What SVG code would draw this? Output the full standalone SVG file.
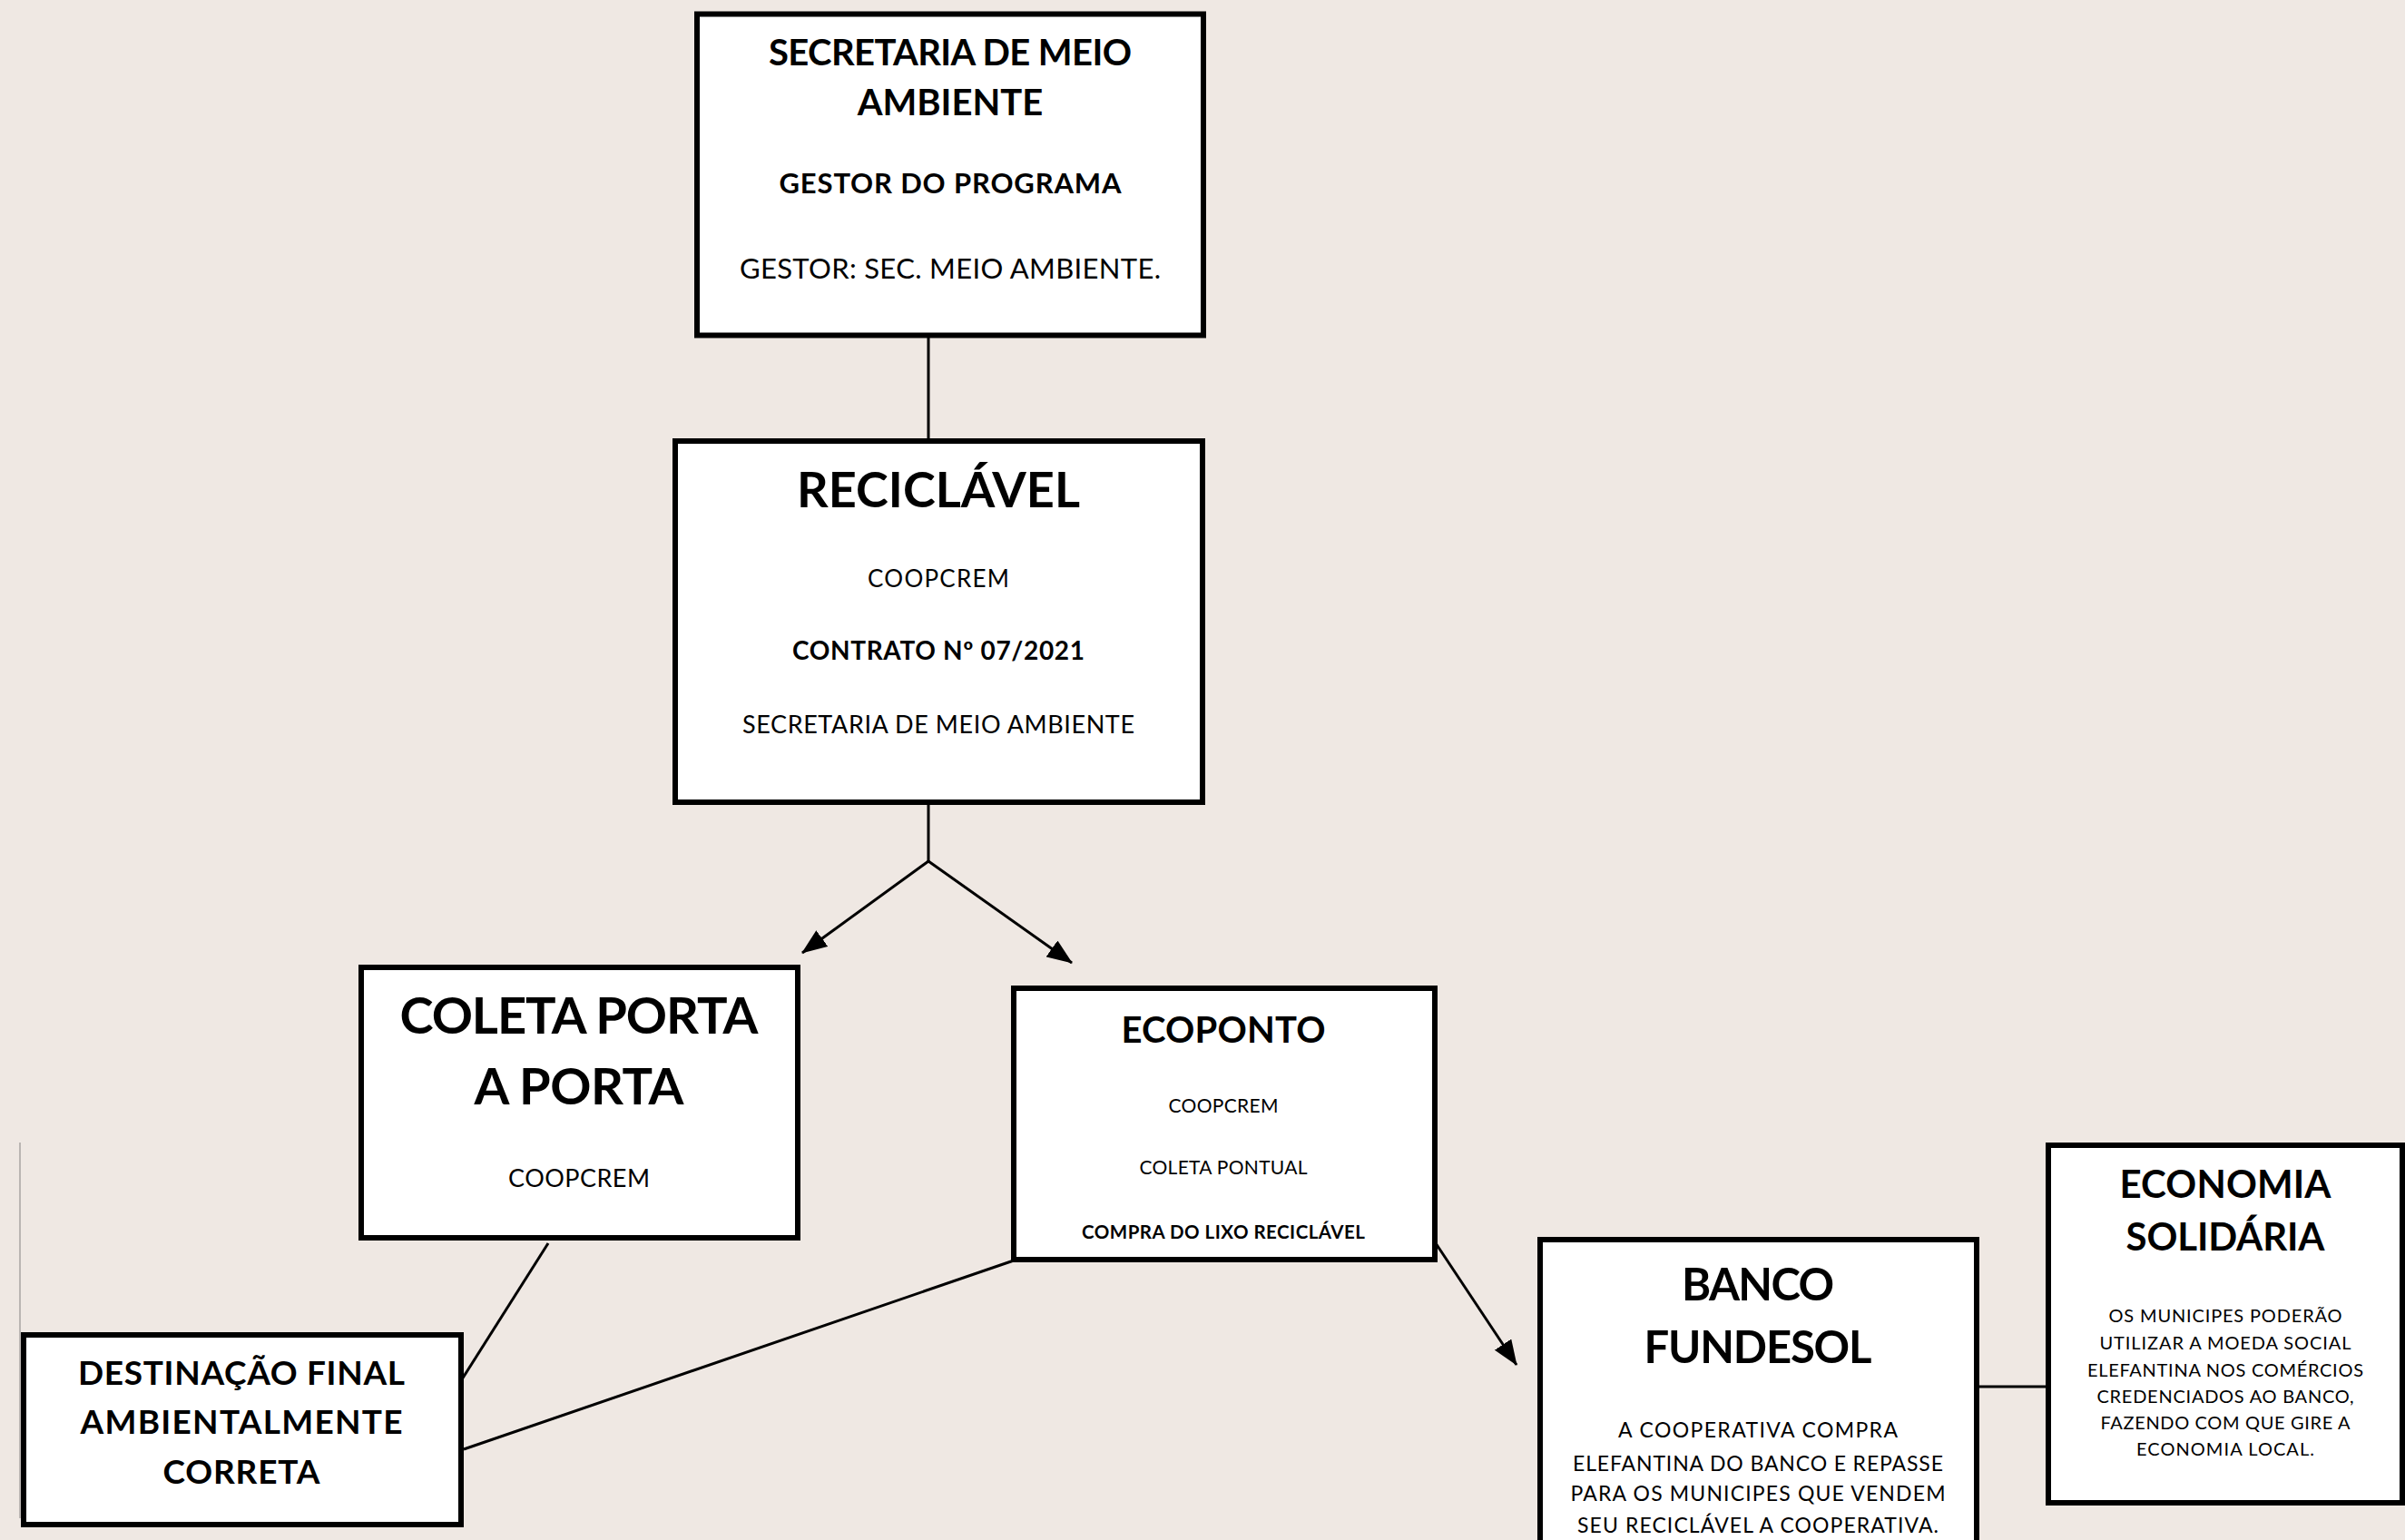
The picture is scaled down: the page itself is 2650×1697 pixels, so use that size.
<svg xmlns="http://www.w3.org/2000/svg" width="2650" height="1697" viewBox="0 0 2650 1697">
<style>
.box{fill:#ffffff;stroke:#000000;stroke-width:6}
.t{font-family:Lato,"Open Sans","Liberation Sans",sans-serif;fill:#000;text-anchor:middle}
.b{font-weight:bold}
.r{font-weight:normal}
.ln{stroke:#000;stroke-width:3;fill:none}
</style>
<defs>
<marker id="ah" markerUnits="userSpaceOnUse" markerWidth="28" markerHeight="22" refX="27" refY="11" orient="auto">
<path d="M0,0 L28,11 L0,22 z" fill="#000"/>
</marker>
</defs>
<rect x="0" y="0" width="2650" height="1697" fill="#EFE8E3"/>
<line x1="22" y1="1259" x2="22" y2="1673" stroke="#A8A4A2" stroke-width="1.5"/>

<g id="connectors">
<line class="ln" x1="1023" y1="372" x2="1023" y2="483"/>
<polyline class="ln" points="1023,887 1023,949"/>
<line class="ln" x1="1023" y1="949" x2="884" y2="1050" marker-end="url(#ah)"/>
<line class="ln" x1="1023" y1="949" x2="1181" y2="1061" marker-end="url(#ah)"/>
<line class="ln" x1="604" y1="1370" x2="509" y2="1520" stroke-width="2.5"/>
<line class="ln" x1="1117" y1="1389" x2="511" y2="1597" stroke-width="4"/>
<line class="ln" x1="1582" y1="1370" x2="1671" y2="1504" marker-end="url(#ah)"/>
<line class="ln" x1="2181" y1="1528" x2="2256" y2="1528"/>
</g>

<g id="secretaria">
<rect class="box" x="768" y="15.5" width="558" height="354"/>
<text class="t b" x="1047" y="72" font-size="40" textLength="400" lengthAdjust="spacing">SECRETARIA DE MEIO</text>
<text class="t b" x="1047" y="127" font-size="40">AMBIENTE</text>
<text class="t b" x="1047" y="213" font-size="31" textLength="377" lengthAdjust="spacing">GESTOR DO PROGRAMA</text>
<text class="t r" x="1047" y="307" font-size="31" textLength="464" lengthAdjust="spacing">GESTOR: SEC. MEIO AMBIENTE.</text>
</g>

<g id="reciclavel">
<rect class="box" x="744" y="486" width="581" height="398"/>
<text class="t b" x="1034" y="559" font-size="54" textLength="312" lengthAdjust="spacing">RECICLÁVEL</text>
<text class="t r" x="1034" y="647" font-size="26" textLength="156" lengthAdjust="spacing">COOPCREM</text>
<text class="t b" x="1034" y="727" font-size="28" textLength="322" lengthAdjust="spacing">CONTRATO Nº 07/2021</text>
<text class="t r" x="1034" y="808" font-size="27" textLength="432" lengthAdjust="spacing">SECRETARIA DE MEIO AMBIENTE</text>
</g>

<g id="coleta">
<rect class="box" x="398" y="1066" width="481" height="298"/>
<text class="t b" x="638" y="1139" font-size="56" textLength="395" lengthAdjust="spacing">COLETA PORTA</text>
<text class="t b" x="638" y="1217" font-size="56" textLength="231" lengthAdjust="spacing">A PORTA</text>
<text class="t r" x="638" y="1308" font-size="27" textLength="156" lengthAdjust="spacing">COOPCREM</text>
</g>

<g id="ecoponto">
<rect class="box" x="1117" y="1089" width="464" height="299"/>
<text class="t b" x="1348" y="1149" font-size="40" textLength="225" lengthAdjust="spacing">ECOPONTO</text>
<text class="t r" x="1348" y="1226" font-size="21" textLength="121" lengthAdjust="spacing">COOPCREM</text>
<text class="t r" x="1348" y="1294" font-size="21" textLength="185" lengthAdjust="spacing">COLETA PONTUAL</text>
<text class="t b" x="1348" y="1365" font-size="20.5" textLength="312" lengthAdjust="spacing">COMPRA DO LIXO RECICLÁVEL</text>
</g>

<g id="destinacao">
<rect class="box" x="26" y="1471" width="482" height="209"/>
<text class="t b" x="266" y="1526" font-size="37" textLength="360" lengthAdjust="spacing">DESTINAÇÃO FINAL</text>
<text class="t b" x="266" y="1580" font-size="37" textLength="355" lengthAdjust="spacing">AMBIENTALMENTE</text>
<text class="t b" x="266" y="1635" font-size="37" textLength="173" lengthAdjust="spacing">CORRETA</text>
</g>

<g id="banco">
<rect class="box" x="1697" y="1366" width="481" height="360"/>
<text class="t b" x="1937" y="1433" font-size="49" textLength="168" lengthAdjust="spacing">BANCO</text>
<text class="t b" x="1937" y="1502" font-size="49" textLength="251" lengthAdjust="spacing">FUNDESOL</text>
<text class="t r" x="1937" y="1584" font-size="23" textLength="308" lengthAdjust="spacing">A COOPERATIVA COMPRA</text>
<text class="t r" x="1937" y="1621" font-size="23" textLength="408" lengthAdjust="spacing">ELEFANTINA DO BANCO E REPASSE</text>
<text class="t r" x="1937" y="1654" font-size="23" textLength="413" lengthAdjust="spacing">PARA OS MUNICIPES QUE VENDEM</text>
<text class="t r" x="1937" y="1689" font-size="23" textLength="398" lengthAdjust="spacing">SEU RECICLÁVEL A COOPERATIVA.</text>
</g>

<g id="economia">
<rect class="box" x="2257" y="1262" width="390" height="394"/>
<text class="t b" x="2452" y="1320" font-size="42" textLength="233" lengthAdjust="spacing">ECONOMIA</text>
<text class="t b" x="2452" y="1378" font-size="42" textLength="219" lengthAdjust="spacing">SOLIDÁRIA</text>
<text class="t r" x="2452" y="1457" font-size="20" textLength="257" lengthAdjust="spacing">OS MUNICIPES PODERÃO</text>
<text class="t r" x="2452" y="1487" font-size="20" textLength="277" lengthAdjust="spacing">UTILIZAR A MOEDA SOCIAL</text>
<text class="t r" x="2452" y="1517" font-size="20" textLength="304" lengthAdjust="spacing">ELEFANTINA NOS COMÉRCIOS</text>
<text class="t r" x="2452" y="1546" font-size="20" textLength="283" lengthAdjust="spacing">CREDENCIADOS AO BANCO,</text>
<text class="t r" x="2452" y="1575" font-size="20" textLength="275" lengthAdjust="spacing">FAZENDO COM QUE GIRE A</text>
<text class="t r" x="2452" y="1604" font-size="20" textLength="196" lengthAdjust="spacing">ECONOMIA LOCAL.</text>
</g>
</svg>
